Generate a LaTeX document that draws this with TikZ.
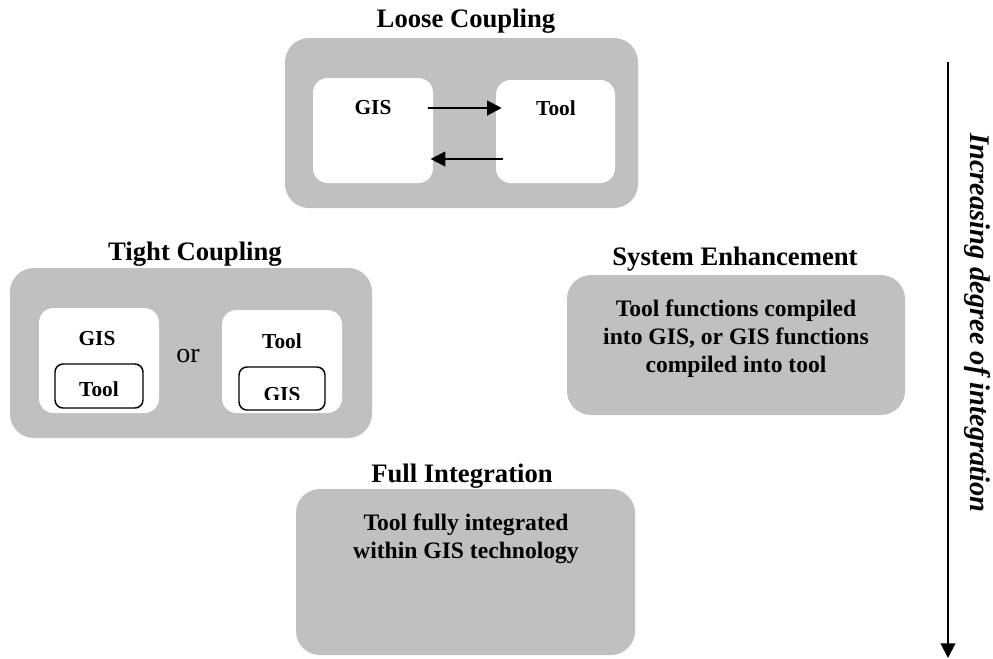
\documentclass[tikz,border=0pt]{standalone}
\usepackage{fontspec}
\setmainfont{Liberation Serif}
\usetikzlibrary{arrows.meta,positioning,fit}
\definecolor{panelgrey}{RGB}{192,192,192}
\tikzset{
  panel/.style={fill=panelgrey, rounded corners=18pt, inner sep=0pt},
  pane/.style={fill=white, rounded corners=11pt, inner sep=0pt},
  subpane/.style={draw=black, line width=1.1pt, fill=white, rounded corners=6pt, inner sep=0pt},
  heading/.style={font=\fontsize{20}{24}\selectfont\bfseries},
  tag/.style={font=\fontsize{16}{19}\selectfont\bfseries},
  blurb/.style={font=\fontsize{17.7}{21}\selectfont\bfseries, align=center},
  flow/.style={-{Triangle[length=11pt,width=11pt]}, line width=1.5pt}
}
\begin{document}
\begin{tikzpicture}[x=0.75pt,y=-0.75pt]
\useasboundingbox (0,0) rectangle (993,658);
% loose coupling
\node[heading] (looseT) at (466,21) {Loose Coupling};
\node[panel, fit={(285,38) (638,208)}] (loose) {};
\node[pane, fit={(313,78) (433,183)}] (gisL) {};
\node[pane, fit={(496,80) (615,183)}] (toolL) {};
\node[tag] (gisTagL) at (373,108) {GIS};
\node[tag] (toolTagL) at (556,108) {Tool};
\coordinate (backL) at (500,159);
\draw[flow] ([xshift=-4pt]gisL.east |- gisTagL) -- ([xshift=4.5pt]toolL.west |- gisTagL);
\draw[flow] ([xshift=5.5pt]toolL.west |- backL) -- ([xshift=-2pt]gisL.east |- backL);
% tight coupling
\node[heading] (tightT) at (195,254) {Tight Coupling};
\node[panel, fit={(10,268) (372,438)}] (tight) {};
\node[pane, fit={(39,308) (159,413)}] (gisT) {};
\node[pane, fit={(222,310) (342,413)}] (toolT) {};
\node[tag] at (97,339) {GIS};
\node[tag] at (282,341) {Tool};
\node[font=\fontsize{21}{24}\selectfont] (orT) at (188,356) {or};
\node[subpane, fit={(55,364) (143,408)}] (toolIn) {};
\node[tag] at (99,389) {Tool};
\node[subpane, fit={(239,367) (325,410)}] (gisIn) {};
\begin{scope}
\clip (230,360) rectangle (335,399);
\node[tag] at (282,395) {GIS};
\end{scope}
% system enhancement
\node[heading] (enhT) at (735,259) {System Enhancement};
\node[panel, fit={(567,275) (905,415)}] (enh) {};
\node[blurb] at (736,339) {Tool functions compiled\\into GIS, or GIS functions\\compiled into tool};
% full integration
\node[heading] (fullT) at (462,476) {Full Integration};
\node[panel, fit={(296,489) (635,655)}] (full) {};
\node[blurb] at (466,539) {Tool fully integrated\\within GIS technology};
% degree axis
\coordinate (axTop) at (948,62);
\coordinate (axEnd) at (948,658);
\draw[flow] (axTop) -- (axEnd);
\node[font=\fontsize{21.4}{24}\selectfont\bfseries\itshape, rotate=-90] (axLab) at (977,323) {Increasing degree of integration};
\end{tikzpicture}
\end{document}
